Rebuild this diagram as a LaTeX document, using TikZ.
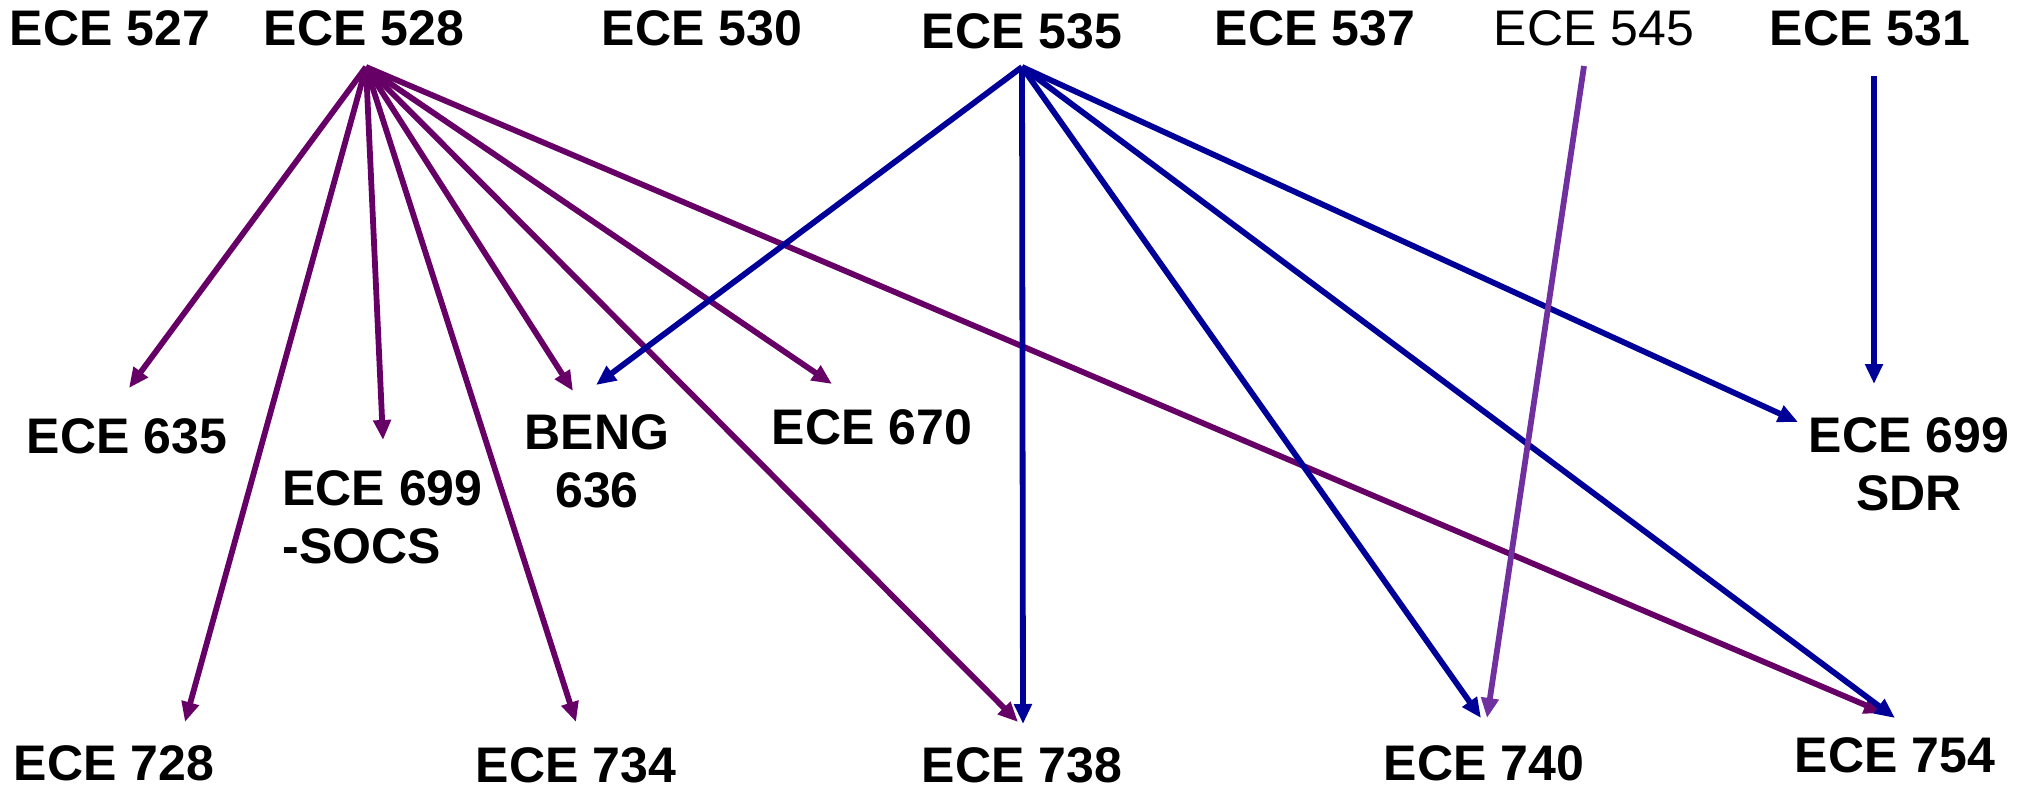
\documentclass[tikz,border=0pt]{standalone}
\usepackage{fontspec}
\setmainfont{Liberation Sans}
\usetikzlibrary{arrows.meta}
\definecolor{pplink}{HTML}{660066}
\definecolor{blulink}{HTML}{000099}
\definecolor{lavlink}{HTML}{7030A0}
\begin{document}
\begin{tikzpicture}[x=0.5pt,y=-0.5pt,
  course/.style={font=\fontsize{25}{29}\selectfont\bfseries, inner sep=0pt, anchor=base},
  plain/.style={font=\fontsize{25}{29}\selectfont, inner sep=0pt, anchor=base},
  link/.style={line width=2.9pt, -{Triangle[length=10pt,width=8.5pt]}},
  fromA/.style={link, draw=pplink, fill=pplink},
  fromB/.style={link, draw=blulink, fill=blulink},
  fromC/.style={link, draw=lavlink, fill=lavlink}]
\useasboundingbox (0,0) rectangle (2028,791);

% 500-level courses
\node[course] (c527) at (110,46) {ECE 527};
\node[course] (c528) at (364,46) {ECE 528};
\node[course] (c530) at (702,46) {ECE 530};
\node[course] (c535) at (1022,49) {ECE 535};
\node[course] (c537) at (1315,46) {ECE 537};
\node[plain]  (c545) at (1594,46) {ECE 545};
\node[course] (c531) at (1870,46) {ECE 531};

% 600-level courses (two-line labels sit on their last baseline)
\node[course] (c635) at (127,453) {ECE 635};
\node[course, align=left, anchor=base west] (c699a) at (282,563) {ECE 699\\-SOCS};
\node[course, align=center] (b636) at (597,507) {BENG\\636};
\node[course] (c670) at (872,444) {ECE 670};
\node[course, align=center] (c699b) at (1909,510) {ECE 699\\SDR};

% 700-level courses
\node[course] (c728) at (114,780) {ECE 728};
\node[course] (c734) at (576,782) {ECE 734};
\node[course] (c738) at (1022,782) {ECE 738};
\node[course] (c740) at (1484,780) {ECE 740};
\node[course] (c754) at (1895,772) {ECE 754};

% connector end points
\coordinate (s528) at (366,67);
\coordinate (s535) at (1022,67);
\coordinate (s545) at (1584,66);
\coordinate (s531) at (1874,76);
\coordinate (t635) at (129,388);
\coordinate (t699a) at (383,440);
\coordinate (t636a) at (573,391);
\coordinate (t636b) at (596,385);
\coordinate (t670) at (832,384);
\coordinate (t699b) at (1798,422);
\coordinate (t699c) at (1874,384);
\coordinate (t728) at (185,722);
\coordinate (t734) at (576,722);
\coordinate (t738a) at (1018,722);
\coordinate (t738b) at (1023,724);
\coordinate (t740a) at (1481,718);
\coordinate (t740b) at (1487,718);
\coordinate (t754a) at (1884,713);
\coordinate (t754b) at (1895,718);

% ECE 528 prerequisites
\draw[fromA] (s528) -- (t635);
\draw[fromA] (s528) -- (t699a);
\draw[fromA] (s528) -- (t636a);
\draw[fromA] (s528) -- (t670);
\draw[fromA] (s528) -- (t728);
\draw[fromA] (s528) -- (t734);
\draw[fromA] (s528) -- (t738a);
\draw[fromA] (s528) -- (t754a);

% ECE 535 prerequisites
\draw[fromB] (s535) -- (t636b);
\draw[fromB] (s535) -- (t738b);
\draw[fromB] (s535) -- (t740a);
\draw[fromB] (s535) -- (t754b);
\draw[fromB] (s535) -- (t699b);

% ECE 545 and ECE 531
\draw[fromC] (s545) -- (t740b);
\draw[fromB] (s531) -- (t699c);
\end{tikzpicture}
\end{document}
